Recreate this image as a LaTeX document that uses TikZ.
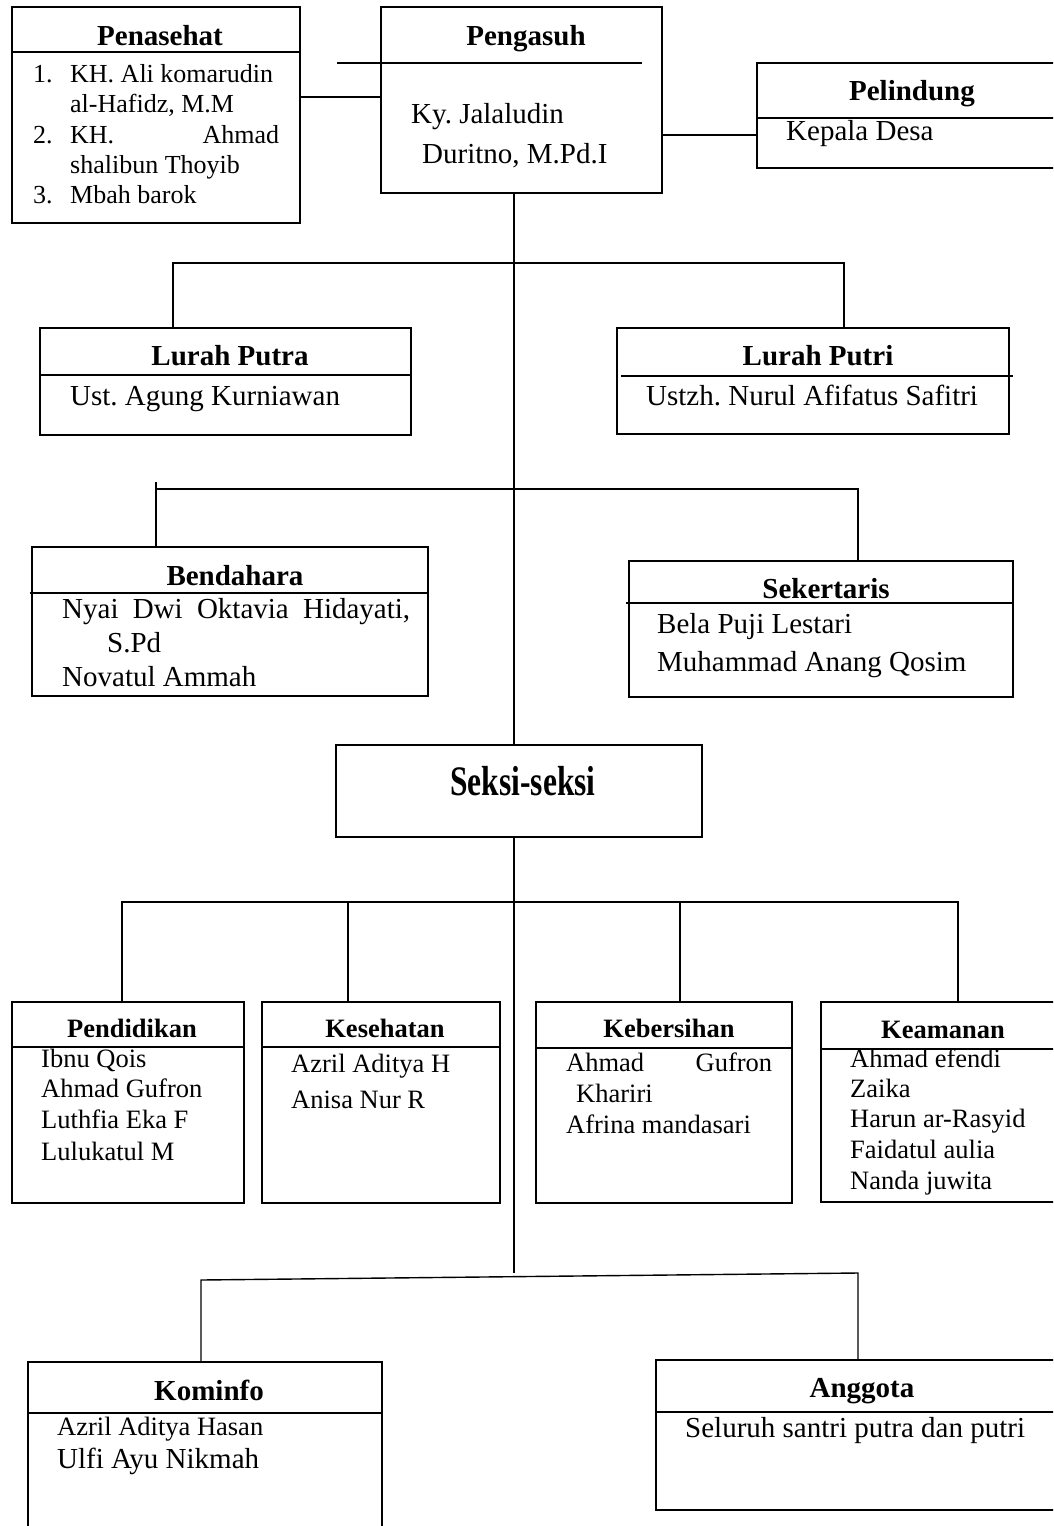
\documentclass[tikz,border=0pt]{standalone}
\usepackage{fontspec}
\setmainfont{Liberation Serif}
\usetikzlibrary{fit}
\frenchspacing
\newcommand\fA{\fontsize{29}{34}\selectfont}
\newcommand\fB{\fontsize{26.5}{31}\selectfont}
\newcommand\fC{\fontsize{26}{31}\selectfont}
\begin{document}
\begin{tikzpicture}[x=1pt,y=-1pt,
  box/.style={draw,line width=1.4pt,inner sep=0pt,outer sep=0pt,rectangle},
  hdr/.style={line width=1.6pt},
  conn/.style={line width=1.4pt},
  ttl/.style={anchor=base,inner sep=0pt,font=\fA\bfseries},
  ttlB/.style={anchor=base,inner sep=0pt,font=\fB\bfseries},
  tA/.style={anchor=base west,inner sep=0pt,font=\fA},
  tB/.style={anchor=base west,inner sep=0pt,font=\fB},
  tC/.style={anchor=base west,inner sep=0pt,font=\fC}]
\clip (0,0) rectangle (1053,1526);
\fill[white] (0,0) rectangle (1053,1526);

% ---------- top row ----------
\node[box,fit={(12,7)(300,223)}] (pen) {};
\draw[hdr] (12,52) -- (300,52);
\node[ttl] (penT) at (160,45) {Penasehat};
\node[tC] (pn1) at (33,82) {1.};
\node[tC] (pn1a) at (70,82) {KH. Ali komarudin};
\node[tC] (pn1b) at (70,112) {al-Hafidz, M.M};
\node[tC] (pn2) at (33,143) {2.};
\node[tC] (pn2a) at (70,143) {\makebox[209pt][s]{KH. Ahmad}};
\node[tC] (pn2b) at (70,173) {shalibun Thoyib};
\node[tC] (pn3) at (33,203) {3.};
\node[tC] (pn3a) at (70,203) {Mbah barok};

\node[box,fit={(381,7)(662,193)}] (peng) {};
\draw[hdr] (337,63) -- (642,63);
\node[ttl] (pengT) at (526,45) {Pengasuh};
\node[tA] (peng1) at (411,123) {Ky. Jalaludin};
\node[tA] (peng2) at (422,163) {Duritno, M.Pd.I};

\node[box,fit={(757,63)(1068,168)}] (pel) {};
\draw[hdr] (757,118) -- (1060,118);
\node[ttl] (pelT) at (912,100) {Pelindung};
\node[tA] (pel1) at (786,140) {Kepala Desa};

\draw[conn] (pen.east |- 0,97) -- (peng.west |- 0,97);
\draw[conn] (peng.east |- 0,135) -- (pel.west |- 0,135);

% ---------- lurah ----------
\node[box,fit={(40,328)(411,435)}] (lpa) {};
\draw[hdr] (40,375) -- (411,375);
\node[ttl] (lpaT) at (230,365) {Lurah Putra};
\node[tA] (lpa1) at (70,405) {Ust. Agung Kurniawan};

\node[box,fit={(617,328)(1009,434)}] (lpi) {};
\draw[hdr] (621,376) -- (1013,376);
\node[ttl] (lpiT) at (818,365) {Lurah Putri};
\node[tA] (lpi1) at (646,405) {Ustzh. Nurul Afifatus Safitri};

\draw[conn] (lpa.north -| 173,0) -- (173,263) -- (844,263) -- (lpi.north -| 844,0);

% ---------- bendahara / sekertaris ----------
\node[box,fit={(32,547)(428,696)}] (ben) {};
\draw[hdr] (30,593) -- (428,593);
\node[ttl] (benT) at (235,585) {Bendahara};
\node[tA] (ben1) at (62,618) {\makebox[348pt][s]{Nyai Dwi Oktavia Hidayati,}};
\node[tA] (ben2) at (107,652) {S.Pd};
\node[tA] (ben3) at (62,686) {Novatul Ammah};

\node[box,fit={(629,561)(1013,697)}] (sek) {};
\draw[hdr] (626,603) -- (1013,603);
\node[ttl] (sekT) at (826,598) {Sekertaris};
\node[tA] (sek1) at (657,633) {Bela Puji Lestari};
\node[tA] (sek2) at (657,671) {Muhammad Anang Qosim};

\draw[conn] (156,482) -- (ben.north -| 156,0);
\draw[conn] (156,489) -- (858,489) -- (sek.north -| 858,0);

% ---------- seksi-seksi ----------
\node[box,fit={(336,745)(702,837)}] (sks) {};
\node[anchor=base,inner sep=0pt,font=\fontsize{42}{46}\selectfont\bfseries] (sksT) at (523,795) {\scalebox{0.75}[1]{Seksi-seksi}};

\coordinate (t) at (514,0);
\draw[conn] (peng.south -| t) -- (sks.north -| t);

% ---------- seksi boxes ----------
\node[box,fit={(12,1002)(244,1203)}] (pdd) {};
\draw[hdr] (12,1047) -- (244,1047);
\node[ttlB] (pddT) at (132,1037) {Pendidikan};
\node[tB] (pdd1) at (41,1067) {Ibnu Qois};
\node[tB] (pdd2) at (41,1097) {Ahmad Gufron};
\node[tB] (pdd3) at (41,1128) {Luthfia Eka F};
\node[tB] (pdd4) at (41,1160) {Lulukatul M};

\node[box,fit={(262,1002)(500,1203)}] (kes) {};
\draw[hdr] (262,1047) -- (500,1047);
\node[ttlB] (kesT) at (385,1037) {Kesehatan};
\node[tB] (kes1) at (291,1072) {Azril Aditya H};
\node[tB] (kes2) at (291,1108) {Anisa Nur R};

\node[box,fit={(536,1002)(792,1203)}] (keb) {};
\draw[hdr] (536,1048) -- (792,1048);
\node[ttlB] (kebT) at (669,1037) {Kebersihan};
\node[tB] (keb1) at (566,1071) {\makebox[206pt][s]{Ahmad Gufron}};
\node[tB] (keb2) at (576,1102) {Khariri};
\node[tB] (keb3) at (566,1133) {Afrina mandasari};

\node[box,fit={(821,1002)(1068,1202)}] (kea) {};
\draw[hdr] (821,1049) -- (1060,1049);
\node[ttlB] (keaT) at (943,1038) {Keamanan};
\node[tB] (kea1) at (850,1067) {Ahmad efendi};
\node[tB] (kea2) at (850,1097) {Zaika};
\node[tB] (kea3) at (850,1127) {Harun ar-Rasyid};
\node[tB] (kea4) at (850,1158) {Faidatul aulia};
\node[tB] (kea5) at (850,1189) {Nanda juwita};

\draw[conn] (pdd.north -| 122,0) -- (122,902) -- (958,902) -- (kea.north -| 958,0);
\draw[conn] (348,902) -- (kes.north -| 348,0);
\draw[conn] (680,902) -- (keb.north -| 680,0);

% ---------- bottom ----------
\node[box,fit={(28,1362)(382,1545)}] (kom) {};
\draw[hdr] (28,1413) -- (382,1413);
\node[ttl] (komT) at (209,1400) {Kominfo};
\node[tB] (kom1) at (57,1435) {Azril Aditya Hasan};
\node[tA] (kom2) at (57,1468) {Ulfi Ayu Nikmah};

\node[box,fit={(656,1360)(1068,1510)}] (ang) {};
\draw[hdr] (656,1412) -- (1060,1412);
\node[ttl] (angT) at (862,1397) {Anggota};
\node[tA] (ang1) at (685,1437) {Seluruh santri putra dan putri};

\coordinate (tend) at (514,1273);
\draw[conn] (sks.south -| t) -- (tend);
\draw[conn] (kom.north -| 201,0) -- (201,1280) -- (858,1273) -- (ang.north -| 858,0);
\end{tikzpicture}
\end{document}
